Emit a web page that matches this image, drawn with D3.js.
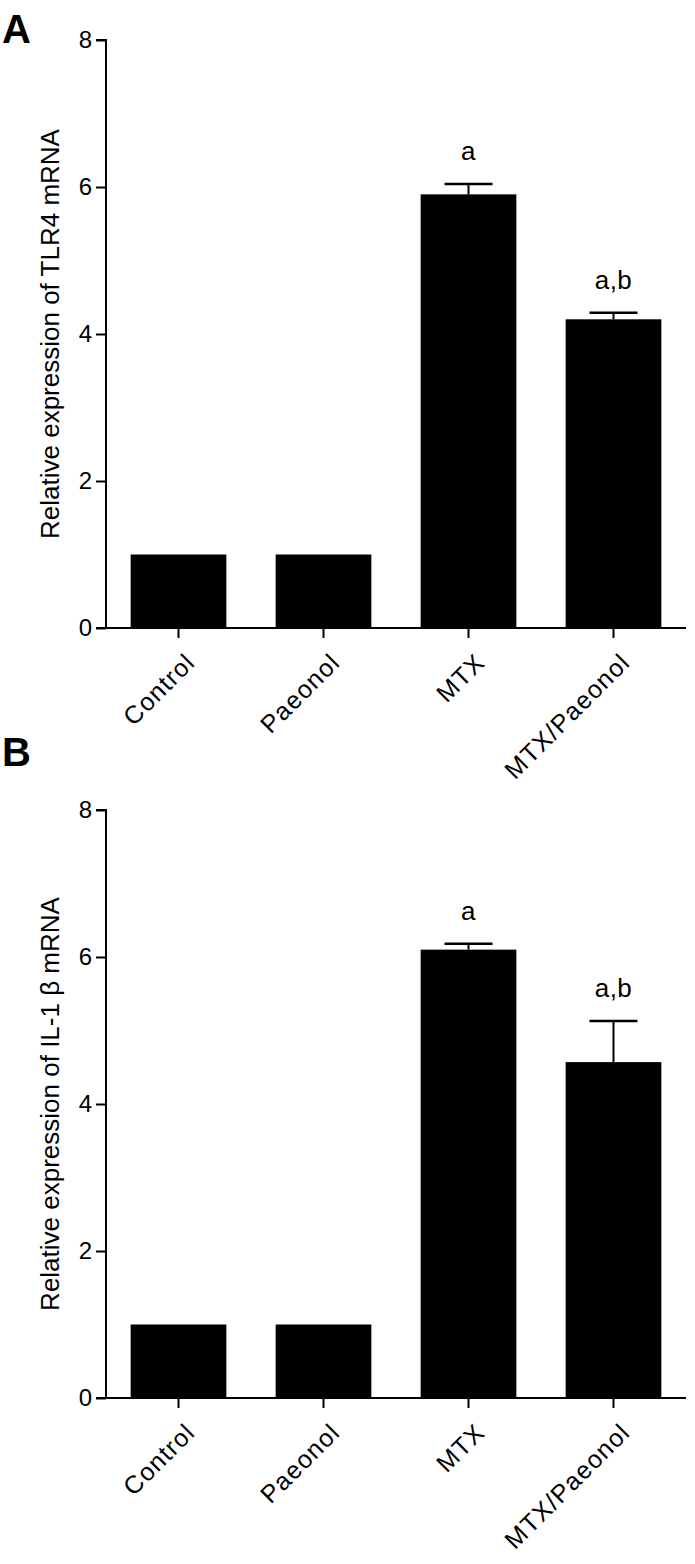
<!DOCTYPE html>
<html><head><meta charset="utf-8">
<script src="https://cdn.jsdelivr.net/npm/d3@7"></script>
<style>body{margin:0;background:#fff}svg{display:block}text{font-family:Arial,"Liberation Sans",sans-serif;fill:#000}</style>
</head><body><svg id="c" width="695" height="1564"></svg>
<script>
const categories = ["Control", "Paeonol", "MTX", "MTX/Paeonol"];
const tlr4Means = [1.0, 1.0, 5.9, 4.2];
const tlr4Sem = [0, 0, 0.14, 0.09];
const tlr4Sig = ["", "", "a", "a,b"];
const il1bMeans = [1.0, 1.0, 6.1, 4.57];
const il1bSem = [0, 0, 0.08, 0.56];
const il1bSig = ["", "", "a", "a,b"];
const yTicks = [0, 2, 4, 6, 8];

const panels = [
  {letter: "A", title: "Relative expression of TLR4 mRNA", means: tlr4Means, sem: tlr4Sem, sig: tlr4Sig, top: 40, bottom: 628, letterY: 43},
  {letter: "B", title: "Relative expression of IL-1 β mRNA", means: il1bMeans, sem: il1bSem, sig: il1bSig, top: 810, bottom: 1398, letterY: 766}
];

const svg = d3.select("#c");
const axisX = 106, axisEnd = 686;
const FF = "Arial, 'Liberation Sans', sans-serif";

panels.forEach(p => {
  const g = svg.append("g");
  const x = d3.scaleBand().domain(categories).range([axisX, axisEnd]).paddingInner(0.34).paddingOuter(0.17);
  const y = d3.scaleLinear().domain([0, 8]).range([p.bottom, p.top]);

  g.selectAll("rect.bar").data(categories).join("rect")
    .attr("x", d => x(d)).attr("width", x.bandwidth())
    .attr("y", (d, i) => y(p.means[i])).attr("height", (d, i) => y(0) - y(p.means[i]))
    .attr("fill", "#000");

  categories.forEach((c, i) => {
    if (p.sem[i] <= 0) return;
    const cx = x(c) + x.bandwidth() / 2;
    g.append("line").attr("x1", cx).attr("x2", cx).attr("y1", y(p.means[i])).attr("y2", y(p.means[i] + p.sem[i]))
      .attr("stroke", "#000").attr("stroke-width", 2);
    g.append("line").attr("x1", cx - 24).attr("x2", cx + 24).attr("y1", y(p.means[i] + p.sem[i])).attr("y2", y(p.means[i] + p.sem[i]))
      .attr("stroke", "#000").attr("stroke-width", 2.5);
    if (p.sig[i]) {
      g.append("text").attr("x", cx).attr("y", y(p.means[i] + p.sem[i]) - 24)
        .attr("text-anchor", "middle").attr("font-size", 26).attr("letter-spacing", 0.5).text(p.sig[i]);
    }
  });

  const ya = g.append("g").attr("transform", `translate(${axisX},0)`)
    .call(d3.axisLeft(y).tickValues(yTicks).tickSize(10).tickPadding(4).tickFormat(d3.format("d")));
  ya.attr("font-size", 24).attr("font-family", FF);
  ya.select(".domain").attr("stroke-width", 2).attr("d", `M-10,${y(8)}H0V${y(0)}`);
  ya.selectAll(".tick line").attr("stroke-width", 2);
  ya.selectAll(".tick text").attr("dy", "0.3em");

  const xa = g.append("g").attr("transform", `translate(0,${y(0)})`)
    .call(d3.axisBottom(x).tickSize(10).tickSizeOuter(0));
  xa.attr("font-size", 25).attr("font-family", FF);
  xa.select(".domain").attr("stroke-width", 2).attr("d", `M${axisX - 10},0H${axisEnd}`);
  xa.selectAll(".tick line").attr("stroke-width", 2);
  xa.selectAll(".tick text")
    .attr("text-anchor", "end").attr("letter-spacing", 1.2)
    .attr("transform", "translate(18,36) rotate(-45)").attr("dy", 0).attr("y", 0).attr("x", 0);

  g.append("text").attr("transform", `translate(59,${(p.top + p.bottom) / 2}) rotate(-90)`)
    .attr("text-anchor", "middle").attr("font-size", 26).text(p.title);

  g.append("text").attr("x", 2).attr("y", p.letterY).attr("font-size", 40).attr("font-weight", "bold").text(p.letter);
});
</script></body></html>
